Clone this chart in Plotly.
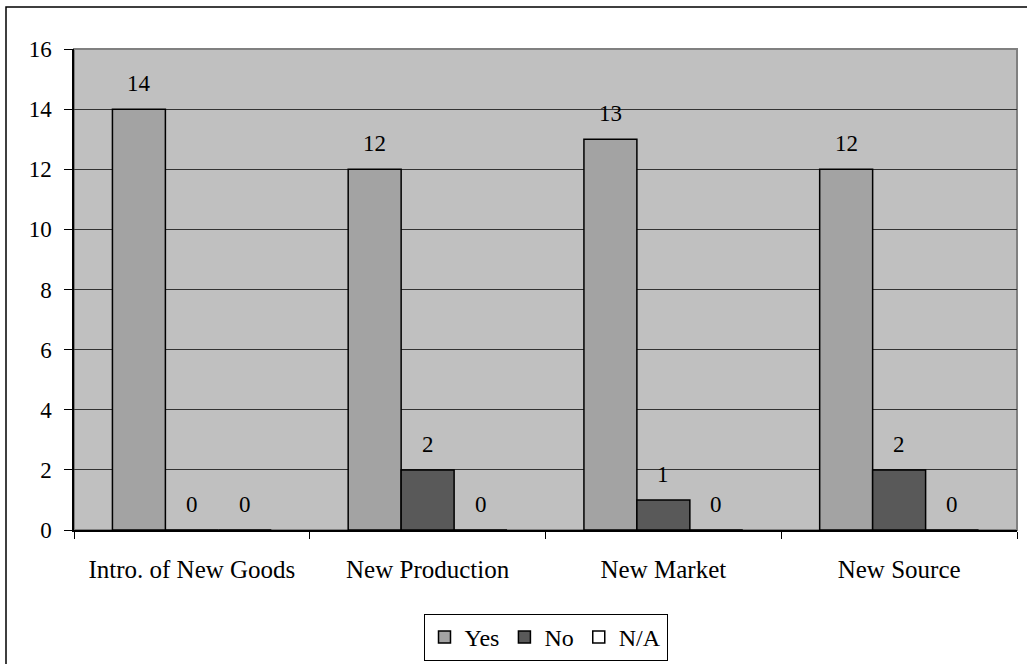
import plotly.graph_objects as go

categories = ["Intro. of New Goods", "New Production", "New Market", "New Source"]
yes_vals = [14, 12, 13, 12]
no_vals = [0, 2, 1, 2]
na_vals = [0, 0, 0, 0]
y_ticks = [0, 2, 4, 6, 8, 10, 12, 14, 16]

FONT = "Liberation Serif, Times New Roman, serif"
BARGAP = 0.326

series = [("Yes", yes_vals, "#A3A3A3"), ("No", no_vals, "#595959"), ("N/A", na_vals, "#FFFFFF")]

fig = go.Figure()
for name, vals, col in series:
    fig.add_trace(go.Bar(
        x=categories, y=vals, name=name,
        marker=dict(color=col, line=dict(color="black", width=1.5)),
        cliponaxis=False,
    ))

# value labels above each bar (category index + group offset)
bar_w = (1 - BARGAP) / len(series)
annotations = []
for j, (name, vals, col) in enumerate(series):
    for i, v in enumerate(vals):
        annotations.append(dict(
            x=i + (j - (len(series) - 1) / 2) * bar_w, y=v, xref="x", yref="y",
            text=str(v), showarrow=False, yanchor="bottom", yshift=11,
            font=dict(family=FONT, size=23, color="black"),
        ))

fig.update_layout(
    width=1027, height=664,
    margin=dict(l=74, r=10, t=49, b=134),
    paper_bgcolor="white", plot_bgcolor="#C0C0C0",
    barmode="group", bargap=BARGAP, bargroupgap=0,
    font=dict(family=FONT, size=25, color="black"),
    showlegend=True,
    legend=dict(
        orientation="h", xref="paper", yref="container",
        x=0.5, xanchor="center", y=(664 - 614) / 664, yanchor="top",
        bordercolor="black", borderwidth=1, bgcolor="white",
        font=dict(family=FONT, size=24), itemwidth=30, traceorder="normal",
    ),
    xaxis=dict(
        tickson="boundaries", ticks="outside", ticklen=7, tickcolor="black",
        showline=True, linecolor="black", linewidth=1.5,
        showgrid=False, ticklabelstandoff=16,
        tickfont=dict(family=FONT, size=25),
    ),
    yaxis=dict(
        range=[0, 16], tickvals=y_ticks, ticks="outside", ticklen=8, tickcolor="black",
        showline=True, linecolor="black", linewidth=1.5,
        showgrid=True, gridcolor="#333333", gridwidth=1, zeroline=False,
        ticklabelstandoff=8,
        tickfont=dict(family=FONT, size=23),
    ),
    annotations=annotations,
    shapes=[
        dict(type="rect", xref="paper", yref="paper", x0=0, x1=1, y0=0, y1=1,
             line=dict(color="#808080", width=2), layer="below"),
        dict(type="rect", xref="paper", yref="paper",
             x0=(6 - 74) / 943, x1=2, y0=-2, y1=1 + 42 / 481,
             line=dict(color="black", width=1.5), fillcolor="rgba(0,0,0,0)"),
    ],
)

fig.write_html("out.html", config={"displayModeBar": False},
               post_script="document.body.style.margin='0';document.body.style.overflow='hidden';")
